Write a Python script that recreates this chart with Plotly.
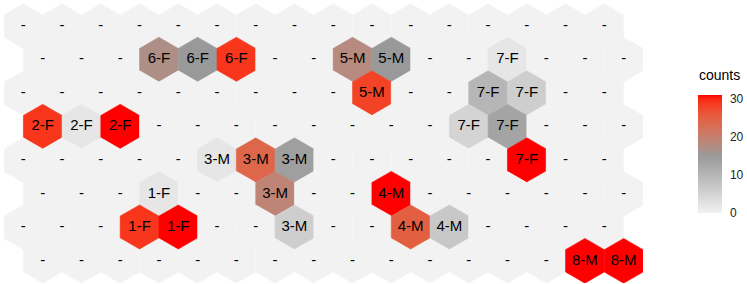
import math
import plotly.graph_objects as go

# ---------------- data ----------------
xdim = 16
ydim = 8
cell_rows = [1, 1, 1, 1, 1, 1, 2, 2, 2, 3, 3, 3, 3, 3, 4, 4, 4, 4, 5, 5, 5, 6, 6, 6, 6, 6, 7, 7]
cell_cols = [3, 4, 5, 8, 9, 12, 9, 12, 13, 0, 1, 2, 11, 12, 5, 6, 7, 13, 3, 6, 9, 3, 4, 7, 10, 11, 14, 15]
cell_labels = ["6-F", "6-F", "6-F", "5-M", "5-M", "7-F", "5-M", "7-F", "7-F",
               "2-F", "2-F", "2-F", "7-F", "7-F", "3-M", "3-M", "3-M", "7-F",
               "1-F", "3-M", "4-M", "1-F", "1-F", "3-M", "4-M", "4-M", "8-M", "8-M"]
cell_counts = [17, 15, 29, 18, 15, 2, 28, 10, 6,
               29, 2, 31, 5, 13, 2, 24, 14, 31,
               2, 19, 31, 29, 31, 6, 25, 7, 31, 31]
empty_label = "-"
count_min, count_mid, count_max = 0, 15, 31
legend_ticks = [0, 10, 20, 30]
legend_title = "counts"

# ---------------- colour scale (Lab interpolation like ggplot) ----------------
LOW, MID, HIGH = "#F2F2F2", "#999999", "#FF0000"


def hex2rgb(h):
    h = h.lstrip("#")
    return [int(h[i:i + 2], 16) / 255 for i in (0, 2, 4)]


def to_lab(h):
    rgb = hex2rgb(h)
    lin = [c / 12.92 if c <= 0.04045 else ((c + 0.055) / 1.055) ** 2.4 for c in rgb]
    X = (0.4124 * lin[0] + 0.3576 * lin[1] + 0.1805 * lin[2]) / 0.95047
    Y = (0.2126 * lin[0] + 0.7152 * lin[1] + 0.0722 * lin[2])
    Z = (0.0193 * lin[0] + 0.1192 * lin[1] + 0.9505 * lin[2]) / 1.08883
    f = lambda t: t ** (1 / 3) if t > 0.008856 else 7.787 * t + 16 / 116
    fx, fy, fz = f(X), f(Y), f(Z)
    return [116 * fy - 16, 500 * (fx - fy), 200 * (fy - fz)]


def from_lab(lab):
    L, a, b = lab
    fy = (L + 16) / 116
    fx = fy + a / 500
    fz = fy - b / 200
    finv = lambda t: t ** 3 if t ** 3 > 0.008856 else (t - 16 / 116) / 7.787
    X, Y, Z = finv(fx) * 0.95047, finv(fy), finv(fz) * 1.08883
    r = 3.2406 * X - 1.5372 * Y - 0.4986 * Z
    g = -0.9689 * X + 1.8758 * Y + 0.0415 * Z
    bb = 0.0557 * X - 0.2040 * Y + 1.0570 * Z
    out = []
    for c in (r, g, bb):
        c = max(0.0, c)
        c = 12.92 * c if c <= 0.0031308 else 1.055 * c ** (1 / 2.4) - 0.055
        out.append(max(0, min(255, round(c * 255))))
    return "rgb(%d,%d,%d)" % tuple(out)


LAB_LOW, LAB_MID, LAB_HIGH = to_lab(LOW), to_lab(MID), to_lab(HIGH)


def colour(v):
    if v <= count_mid:
        t = (v - count_min) / (count_mid - count_min)
        a, b = LAB_LOW, LAB_MID
    else:
        t = (v - count_mid) / (count_max - count_mid)
        a, b = LAB_MID, LAB_HIGH
    t = max(0, min(1, t))
    return from_lab([a[i] + (b[i] - a[i]) * t for i in range(3)])


colorscale = [[(v - count_min) / (count_max - count_min), colour(v)]
              for v in [count_min + k * (count_max - count_min) / 40 for k in range(41)]]

# ---------------- geometry ----------------
R = 1 / math.sqrt(3)
DY = math.sqrt(3) / 2


def centre(r, c):
    return c + (0.5 if r % 2 == 1 else 0.0), (ydim - 1 - r) * DY


cells = {(r, c): (lab, n) for r, c, lab, n in zip(cell_rows, cell_cols, cell_labels, cell_counts)}

fig = go.Figure()
tx, ty, tt = [], [], []
for r in range(ydim):
    for c in range(xdim):
        cx, cy = centre(r, c)
        lab, n = cells.get((r, c), (empty_label, count_min))
        xs = [cx + R * math.cos(math.radians(90 + 60 * k)) for k in range(7)]
        ys = [cy + R * math.sin(math.radians(90 + 60 * k)) for k in range(7)]
        col = colour(n)
        fig.add_trace(go.Scatter(x=xs, y=ys, mode="lines", fill="toself",
                                 fillcolor=col,
                                 line=dict(color="#F5F5F5" if (r, c) not in cells else col, width=0.6),
                                 hoverinfo="skip", showlegend=False))
        tx.append(cx)
        ty.append(cy)
        tt.append(lab)

fig.add_trace(go.Scatter(x=tx, y=ty, mode="text", text=tt,
                         textfont=dict(family="Liberation Sans, Arial", size=15, color="black"),
                         hoverinfo="skip", showlegend=False))

W, H = 747, 284

# colour bar carrier
fig.add_trace(go.Scatter(
    x=[tx[0]], y=[ty[0]], mode="markers",
    marker=dict(size=1, opacity=0, color=[count_min], cmin=count_min, cmax=count_max,
                colorscale=colorscale, showscale=True,
                colorbar=dict(
                    thickness=24, thicknessmode="pixels",
                    len=118, lenmode="pixels",
                    xref="container", x=698 / W, xanchor="left",
                    yref="container", y=(H - 216) / H, yanchor="bottom",
                    xpad=0, ypad=0,
                    tickvals=legend_ticks, ticks="outside", ticklen=6, tickcolor="white",
                    tickfont=dict(family="Liberation Sans, Arial", size=12, color="#222222"),
                    outlinewidth=0)),
    hoverinfo="skip", showlegend=False))

ml, mr, mt, mb = 4, 104, 3, 1
ppu = (W - ml - mr) / 16.5
ytop = (ydim - 1) * DY + R + 0.7 / ppu
ybot = ytop - (H - mt - mb) / ppu

fig.add_annotation(text=legend_title, xref="paper", yref="paper",
                   x=(697 - ml) / (W - ml - mr), y=(H - mb - 75) / (H - mt - mb),
                   xanchor="left", yanchor="middle", showarrow=False,
                   font=dict(family="Liberation Sans, Arial", size=14, color="black"))

fig.update_layout(
    width=W, height=H,
    margin=dict(l=ml, r=mr, t=mt, b=mb, autoexpand=False),
    paper_bgcolor="white", plot_bgcolor="white",
    xaxis=dict(range=[-0.5, 16.0], visible=False, fixedrange=True),
    yaxis=dict(range=[ybot, ytop], visible=False, fixedrange=True),
)

fig.write_html("out.html", config={"displayModeBar": False},
               post_script="document.body.style.margin='0';document.body.style.padding='0';")
